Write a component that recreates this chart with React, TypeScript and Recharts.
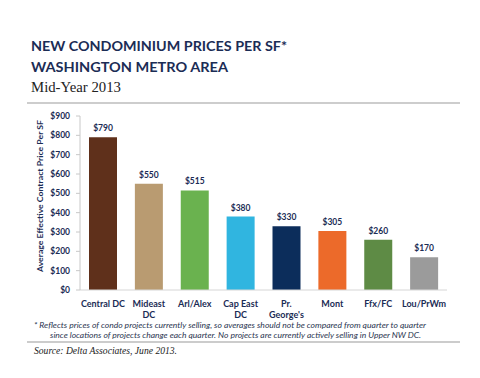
import React from "react";
import { BarChart, Bar, XAxis, YAxis, Cell, LabelList } from "recharts";

const categories = ["Central DC", "Mideast DC", "Arl/Alex", "Cap East DC", "Pr. George's", "Mont", "Ffx/FC", "Lou/PrWm"];
const tickLines: string[][] = [["Central DC"], ["Mideast", "DC"], ["Arl/Alex"], ["Cap East", "DC"], ["Pr.", "George's"], ["Mont"], ["Ffx/FC"], ["Lou/PrWm"]];
const prices = [790, 550, 515, 380, 330, 305, 260, 170];
const barColors = ["#5f301b", "#b99b71", "#6ab24f", "#30b5e0", "#0c2d5b", "#ec6a2a", "#5e8b45", "#9b9b9b"];
const yTicks = [0, 100, 200, 300, 400, 500, 600, 700, 800, 900];

const data = categories.map((c, i) => ({ name: c, value: prices[i], idx: i }));

const NAVY = "#1b2c55";
const FONT = "Lato, 'Open Sans', sans-serif";

const XTick = (props: any) => {
  const { x, y, index } = props;
  const lines = tickLines[index] || [String(props.payload.value)];
  return (
    <g>
      {lines.map((l, i) => (
        <text key={i} x={x} y={y + 9 + i * 11} textAnchor="middle" fontFamily={FONT} fontWeight={700} fontSize={9} fill={NAVY}>
          {l}
        </text>
      ))}
    </g>
  );
};

export default function App() {
  return (
    <div style={{ position: "absolute", left: 0, top: 0, width: 480, height: 378, background: "#fff" }}>
      <BarChart width={480} height={378} data={data} margin={{ top: 116, right: 33, left: 0, bottom: 58 }}>
        <XAxis
          dataKey="name"
          height={30}
          interval={0}
          tickLine={false}
          axisLine={{ stroke: "#d6d6d6" }}
          tick={<XTick />}
        />
        <YAxis
          width={80}
          domain={[0, 900]}
          ticks={yTicks}
          interval={0}
          tickFormatter={(v: number) => `$${v}`}
          tickSize={4}
          tickMargin={6}
          tickLine={{ stroke: "#c8c8c8" }}
          axisLine={{ stroke: "#c8c8c8" }}
          tick={{ fontFamily: FONT, fontWeight: 700, fontSize: 8.5, fill: NAVY }}
        />
        <Bar dataKey="value" barSize={28} isAnimationActive={false}>
          {data.map((d, i) => (
            <Cell key={i} fill={barColors[i]} />
          ))}
          <LabelList
            dataKey="value"
            position="top"
            offset={6}
            formatter={(v: number) => `$${v}`}
            style={{ fontFamily: FONT, fontWeight: 700, fontSize: 8.5, fill: NAVY }}
          />
        </Bar>
      </BarChart>
      <svg width={480} height={378} style={{ position: "absolute", left: 0, top: 0, pointerEvents: "none" }}>
        <text x={31} y={51} fontFamily={FONT} fontWeight={700} fontSize={13.5} fill={NAVY} textLength={256} lengthAdjust="spacingAndGlyphs">
          NEW CONDOMINIUM PRICES PER SF*
        </text>
        <text x={31} y={72} fontFamily={FONT} fontWeight={700} fontSize={13.5} fill={NAVY} textLength={197} lengthAdjust="spacingAndGlyphs">
          WASHINGTON METRO AREA
        </text>
        <text x={31} y={92} fontFamily="'Liberation Serif', serif" fontSize={14} fill="#222" textLength={90} lengthAdjust="spacingAndGlyphs">
          Mid-Year 2013
        </text>
        <line x1={27} x2={460} y1={103} y2={103} stroke="#bdbdbd" strokeWidth={1.5} />
        <text
          x={0}
          y={0}
          transform="translate(43,196) rotate(-90)"
          textAnchor="middle"
          fontFamily={FONT}
          fontWeight={700}
          fontSize={8}
          fill={NAVY}
          textLength={152}
          lengthAdjust="spacingAndGlyphs"
        >
          Average Effective Contract Price Per SF
        </text>
        <text x={34} y={328} fontFamily={FONT} fontStyle="italic" fontSize={8} fill="#2a3550" textLength={392} lengthAdjust="spacingAndGlyphs">
          * Reflects prices of condo projects currently selling, so averages should not be compared from quarter to quarter
        </text>
        <text x={50} y={338} fontFamily={FONT} fontStyle="italic" fontSize={8} fill="#2a3550" textLength={371} lengthAdjust="spacingAndGlyphs">
          since locations of projects change each quarter.  No projects are currently actively selling in Upper NW DC.
        </text>
        <line x1={27} x2={460} y1={342} y2={342} stroke="#9a9a9a" strokeWidth={1.2} />
        <text x={34} y={354} fontFamily="'Liberation Serif', serif" fontStyle="italic" fontSize={10} fill="#222" textLength={143} lengthAdjust="spacingAndGlyphs">
          Source: Delta Associates, June 2013.
        </text>
      </svg>
    </div>
  );
}
